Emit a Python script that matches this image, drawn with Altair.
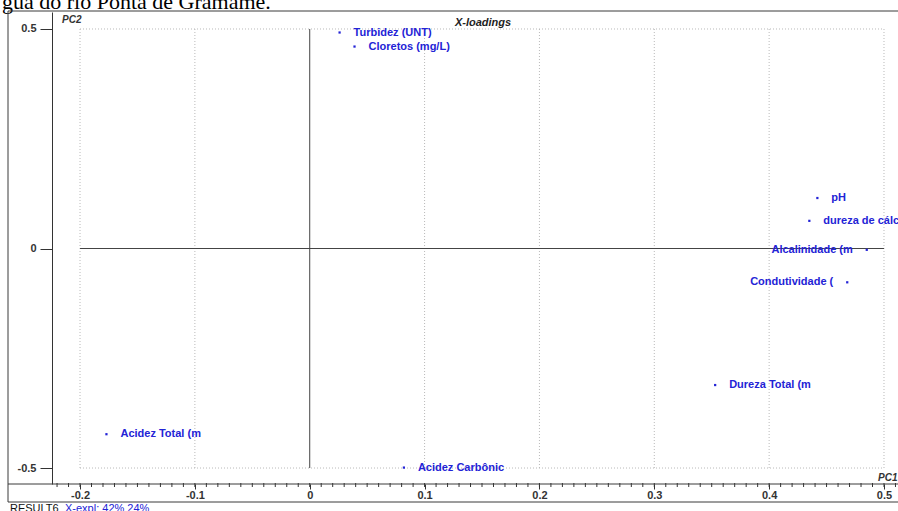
import altair as alt
import pandas as pd

# Loadings of the water-quality variables on PC1 / PC2
labels = [
    "Turbidez (UNT)",
    "Cloretos (mg/L)",
    "pH",
    "dureza de cálci",
    "Alcalinidade (m",
    "Condutividade (",
    "Dureza Total (m",
    "Acidez Total (m",
    "Acidez Carbônic",
]
pc1 = [0.026, 0.039, 0.442, 0.435, 0.485, 0.468, 0.353, -0.177, 0.082]
pc2 = [0.492, 0.460, 0.115, 0.063, -0.003, -0.077, -0.311, -0.423, -0.499]

x_major = [-0.2, -0.1, 0.0, 0.1, 0.2, 0.3, 0.4, 0.5]
y_major = [-0.5, 0.0, 0.5]
x_minor = [round(v / 100, 2) for v in range(-22, 52)]

caption = "gua do rio Ponta de Gramame."
footer_name = "RESULT6"
footer_expl = "X-expl: 42% 24%"

BLUE = "#2323d6"
INK = "#333333"
GRID = "#b8b8b8"
SANS = "Liberation Sans"

W, H = 846, 472
LEFT, TOP, BOTTOM = 52, 12, 27

pts = pd.DataFrame({"pc1": pc1, "pc2": pc2, "label": labels})

xs = alt.Scale(domain=[-0.2244, 0.5122], nice=False, zero=False)
ys = alt.Scale(domain=[-0.5364, 0.5387], nice=False, zero=False)

fmt_expr = (
    "round(datum.value*10) == 0 ? '0' : "
    "(datum.value < 0 ? '-' : '') + format(abs(datum.value), '.1f')"
)

x_axis = alt.Axis(
    values=x_major,
    orient="bottom",
    domain=False,
    grid=False,
    title=None,
    labelExpr=fmt_expr,
    labelOverlap=False,
    labelFlush=False,
    labelFont=SANS,
    labelFontSize=11,
    labelFontWeight="bold",
    labelColor=INK,
    labelPadding=0,
    tickColor=INK,
    tickSize=5,
)
y_axis = alt.Axis(
    values=y_major,
    orient="left",
    domain=True,
    domainColor=INK,
    grid=False,
    title=None,
    labelExpr=fmt_expr,
    labelFont=SANS,
    labelFontSize=11,
    labelFontWeight="bold",
    labelColor=INK,
    labelPadding=4,
    tickColor=INK,
    tickSize=12,
)

X = alt.X("pc1:Q", scale=xs, axis=x_axis)
Y = alt.Y("pc2:Q", scale=ys, axis=y_axis)

# minor ticks along the PC1 axis
minor = alt.Chart(pd.DataFrame({"pc1": x_minor})).mark_rule(color=INK).encode(
    x=X, y=alt.value(H - 1), y2=alt.value(H + 3)
)

# dotted grid box
vgrid = alt.Chart(pd.DataFrame({"pc1": [v for v in x_major if v != 0]})).mark_rule(
    color=GRID, strokeDash=[1, 2], strokeWidth=1
).encode(x=X, y=alt.datum(min(y_major)), y2=alt.datum(max(y_major)))
hgrid = alt.Chart(pd.DataFrame({"pc2": [v for v in y_major if v != 0]})).mark_rule(
    color=GRID, strokeDash=[1, 2], strokeWidth=1
).encode(y=Y, x=alt.datum(min(x_major)), x2=alt.datum(max(x_major)))

# solid zero lines
vzero = alt.Chart(pd.DataFrame({"pc1": [0.0]})).mark_rule(color="#444444").encode(
    x=X, y=alt.datum(min(y_major)), y2=alt.datum(max(y_major))
)
hzero = alt.Chart(pd.DataFrame({"pc2": [0.0]})).mark_rule(color="#444444").encode(
    y=Y, x=alt.datum(min(x_major)), x2=alt.datum(max(x_major))
)

dots = alt.Chart(pts).mark_square(size=5, color=BLUE, opacity=1).encode(x=X, y=Y)

text_style = dict(
    font=SANS, fontSize=11, fontWeight="bold", color=BLUE, baseline="middle", clip=True
)
right_labels = (
    alt.Chart(pts)
    .transform_filter("datum.pc1 <= 0.45")
    .mark_text(align="left", dx=14, **text_style)
    .encode(x=X, y=Y, text="label:N")
)
left_labels = (
    alt.Chart(pts)
    .transform_filter("datum.pc1 > 0.45")
    .mark_text(align="right", dx=-14, **text_style)
    .encode(x=X, y=Y, text="label:N")
)


def note(txt, x, y, **kw):
    return (
        alt.Chart(pd.DataFrame({"t": [txt]}))
        .mark_text(**kw)
        .encode(text="t:N", x=alt.value(x), y=alt.value(y))
    )


pc2_title = note("PC2", 10, 8, font=SANS, fontSize=10, fontStyle="italic",
                 fontWeight="bold", color=INK, align="left", baseline="middle")
pc1_title = note("PC1", 826, 466, font=SANS, fontSize=10, fontStyle="italic",
                 fontWeight="bold", color=INK, align="left", baseline="middle")
panel_title = note("X-loadings", 431, 11, font=SANS, fontSize=11, fontStyle="italic",
                   fontWeight="bold", color="#222222", align="center", baseline="middle")
caption_text = note(caption, -50, -3, font="Liberation Serif", fontSize=22,
                    color="#000000", align="left", baseline="alphabetic")
footer_a = note(footer_name, -42, 491, font=SANS, fontSize=11, color="#111111",
                align="left", baseline="top")
footer_b = note(footer_expl, 13, 491, font=SANS, fontSize=11, color=BLUE,
                align="left", baseline="top")


# frame lines around the plot panel
def hline(y):
    return alt.Chart(pd.DataFrame({"k": [0]})).mark_rule(color="#3a3a3a").encode(
        x=alt.value(-44), x2=alt.value(W), y=alt.value(y)
    )


frame_left = alt.Chart(pd.DataFrame({"k": [0]})).mark_rule(color="#3a3a3a").encode(
    x=alt.value(-44), y=alt.value(-1), y2=alt.value(490)
)

chart = (
    alt.layer(
        vgrid, hgrid, vzero, hzero, minor, dots, right_labels, left_labels,
        pc2_title, pc1_title, panel_title, caption_text, footer_a, footer_b,
        hline(-1), hline(H), hline(490), frame_left,
    )
    .properties(
        width=W,
        height=H,
        autosize=alt.AutoSizeParams(type="none"),
        padding={"left": LEFT, "top": TOP, "right": 0, "bottom": BOTTOM},
        background="white",
    )
    .configure_view(stroke=None)
)

chart.save("out.html", embed_options={"renderer": "svg", "actions": False})
